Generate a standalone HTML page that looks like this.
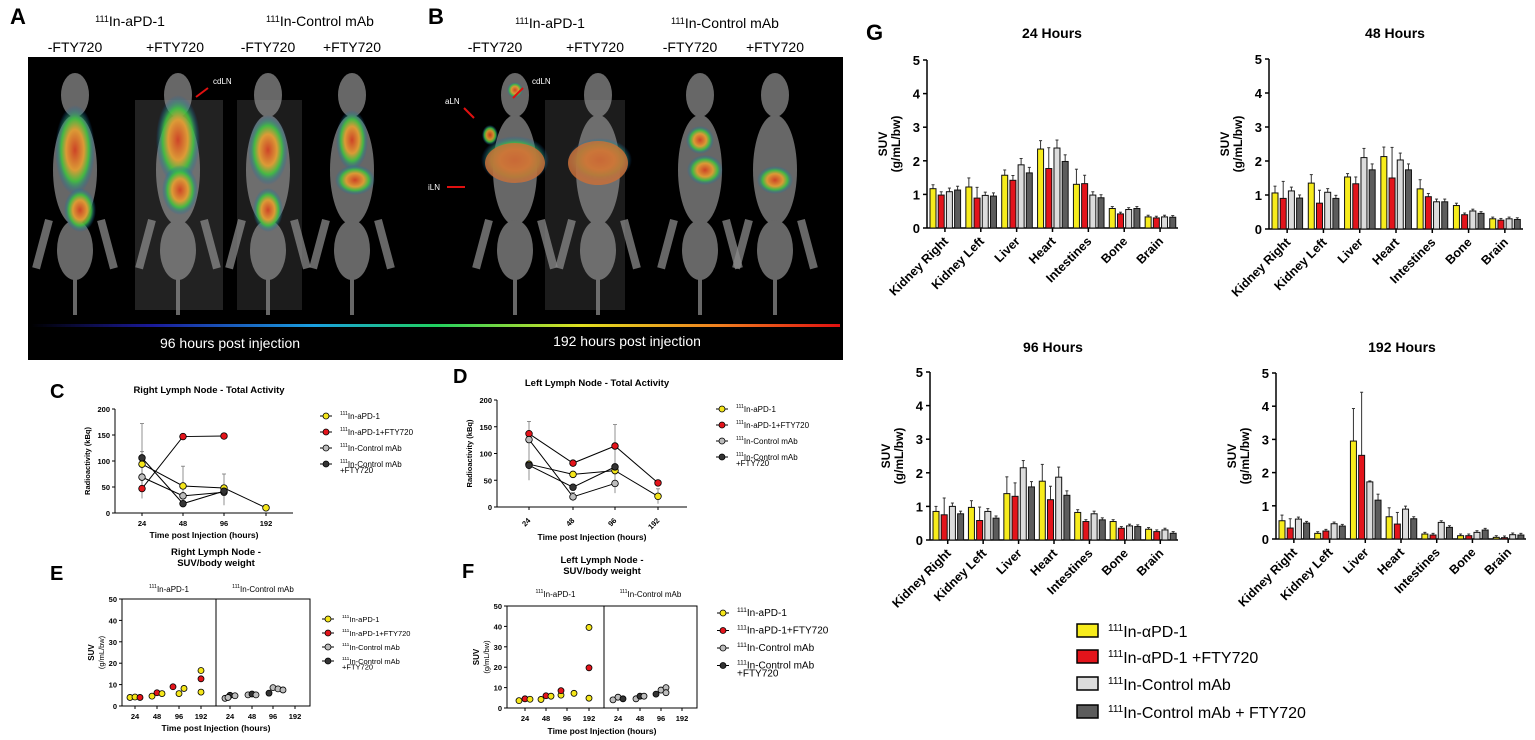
<!DOCTYPE html>
<html><head><meta charset="utf-8"><style>
body{margin:0;background:#fff;}
svg{display:block;font-family:"Liberation Sans",Arial,sans-serif;}
</style></head><body>
<svg id="s" width="1535" height="740" viewBox="0 0 1535 740" xmlns="http://www.w3.org/2000/svg">
<defs>
<linearGradient id="cb" x1="0" x2="1"><stop offset="0" stop-color="#000"/><stop offset="0.15" stop-color="#1a1a9a"/><stop offset="0.35" stop-color="#1aa0e0"/><stop offset="0.5" stop-color="#20d060"/><stop offset="0.68" stop-color="#e0e020"/><stop offset="0.85" stop-color="#f08020"/><stop offset="1" stop-color="#e01010"/></linearGradient>
<radialGradient id="hot"><stop offset="0" stop-color="#d84020"/><stop offset="0.45" stop-color="#e8a030"/><stop offset="0.7" stop-color="#40c040"/><stop offset="1" stop-color="#1060c0" stop-opacity="0"/></radialGradient>
</defs>
</svg>
<script>
const s=document.getElementById('s');let h='';
function T(x,y,t,o={}){h+=`<text x="${x}" y="${y}" font-size="${o.fs||10}" font-weight="${o.fw||'normal'}" text-anchor="${o.a||'start'}" fill="${o.c||'#000'}" ${o.tr?`transform="${o.tr}"`:''}>${t}</text>`;}
function L(x1,y1,x2,y2,c='#000',w=1){h+=`<line x1="${x1}" y1="${y1}" x2="${x2}" y2="${y2}" stroke="${c}" stroke-width="${w}"/>`;}
const sup=n=>`<tspan font-size="65%" dy="-4">${n}</tspan><tspan dy="4">`;
function lab(pre,rest){return `${sup(pre)}${rest}</tspan>`;}
// Panel A/B image
h+=`<rect x="28" y="57" width="815" height="303" fill="#000"/>`;
T(10,24,'A',{fs:22,fw:'bold'});T(428,24,'B',{fs:22,fw:'bold'});
T(130,26,lab('111','In-aPD-1'),{fs:14,a:'middle'});T(320,26,lab('111','In-Control mAb'),{fs:14,a:'middle'});
T(550,28,lab('111','In-aPD-1'),{fs:14,a:'middle'});T(725,28,lab('111','In-Control mAb'),{fs:14,a:'middle'});
[[75,'-FTY720'],[175,'+FTY720'],[268,'-FTY720'],[352,'+FTY720'],[495,'-FTY720'],[595,'+FTY720'],[690,'-FTY720'],[775,'+FTY720']].forEach(([x,t])=>T(x,52,t,{fs:14,a:'middle'}));
// mice
h+=`<rect x="135" y="100" width="88" height="210" fill="#222"/><rect x="237" y="100" width="65" height="210" fill="#1c1c1c"/><rect x="545" y="100" width="80" height="210" fill="#1c1c1c"/>`;
[75,178,268,352,515,598,700,775].forEach((x,i)=>{
 h+=`<g fill="#8a8a8a" opacity="0.75"><ellipse cx="${x}" cy="95" rx="14" ry="22"/><ellipse cx="${x}" cy="170" rx="22" ry="55"/><ellipse cx="${x}" cy="250" rx="18" ry="30"/><rect x="${x-2}" y="270" width="4" height="45"/><rect x="${x-30}" y="220" width="8" height="50" transform="rotate(15 ${x-26} 220)"/><rect x="${x+22}" y="220" width="8" height="50" transform="rotate(-15 ${x+26} 220)"/></g>`;
});
const blobs=[[75,150,20,45],[80,210,16,22],[178,140,22,45],[180,190,18,25],[268,150,20,35],[268,210,15,22],[352,140,16,30],[355,180,20,15],[515,160,34,24],[515,90,8,8],[490,135,8,10],[600,160,32,22],[700,140,14,14],[705,170,18,15],[775,180,18,14]];
blobs.forEach(([x,y,rx,ry])=>h+=`<ellipse cx="${x}" cy="${y}" rx="${rx}" ry="${ry}" fill="url(#hot)" opacity="0.9"/>`);
h+=`<ellipse cx="515" cy="163" rx="30" ry="20" fill="#c8703a" opacity="0.85"/><ellipse cx="598" cy="163" rx="30" ry="22" fill="#c8703a" opacity="0.85"/>`;
h+=`<rect x="31" y="324" width="809" height="3" fill="url(#cb)"/>`;
T(230,348,'96 hours post injection',{fs:14,c:'#fff',a:'middle'});T(627,346,'192 hours post injection',{fs:14,c:'#fff',a:'middle'});
T(213,84,'cdLN',{fs:8,c:'#fff'});T(532,84,'cdLN',{fs:8,c:'#fff'});T(445,104,'aLN',{fs:8,c:'#fff'});T(428,190,'iLN',{fs:8,c:'#fff'});
L(208,88,196,97,'#e01010',2);L(523,88,513,98,'#e01010',2);L(464,108,474,118,'#e01010',2);L(447,187,465,187,'#e01010',2);
// line charts
const cols=['#f5e61a','#e4141b','#bdbdbd','#333'];
function lineChart(o){
 const {x0,x1,y0,yT,ticks,data,ttl,lx,ly,rot,letter}=o;
 T(letter[1],letter[2],letter[0],{fs:20,fw:'bold'});
 T((x0+x1)/2+5,ttl[1],ttl[0],{fs:9.5,fw:'bold',a:'middle'});
 L(x0,yT,x0,y0);L(x0,y0,x1,y0);
 [0,50,100,150,200].forEach(v=>{const y=y0-(y0-yT)*v/200;L(x0-3,y,x0,y);T(x0-5,y+3,v,{fs:7.5,fw:'bold',a:'end'});});
 ticks.forEach((x,i)=>{L(x,y0,x,y0+3);const t=[24,48,96,192][i];if(rot)T(x+2,y0+14,t,{fs:7.5,fw:'bold',a:'end',tr:`rotate(-45 ${x+2} ${y0+14})`});else T(x,y0+13,t,{fs:7.5,fw:'bold',a:'middle'});});
 T((x0+x1)/2,o.xl,'Time post Injection (hours)',{fs:8.5,fw:'bold',a:'middle'});
 T(x0-25,(y0+yT)/2,'Radioactivity (kBq)',{fs:7.5,fw:'bold',a:'middle',tr:`rotate(-90 ${x0-25} ${(y0+yT)/2})`});
 const Y=v=>y0-(y0-yT)*v/200;
 o.err.forEach(([i,v,e])=>{L(ticks[i],Y(v-e),ticks[i],Y(v+e),'#777',0.8);L(ticks[i]-2,Y(v+e),ticks[i]+2,Y(v+e),'#777',0.8);});
 data.forEach((d,k)=>{let p=d.map((v,i)=>v==null?null:[ticks[i],Y(v)]).filter(a=>a);h+=`<polyline points="${p.map(a=>a.join(',')).join(' ')}" fill="none" stroke="#000" stroke-width="1"/>`;});
 data.forEach((d,k)=>d.forEach((v,i)=>{if(v!=null)h+=`<circle cx="${ticks[i]}" cy="${Y(v)}" r="3.3" fill="${cols[k]}" stroke="#000" stroke-width="0.8"/>`;}));
 legend(lx,ly,o.lfs||8,o.lsp||16);
}
function legend(x,y,fs,sp){
 const t=[['111','In-aPD-1'],['111','In-aPD-1+FTY720'],['111','In-Control mAb'],['111','In-Control mAb']];
 t.forEach((a,k)=>{const yy=y+k*sp;L(x,yy,x+12,yy);h+=`<circle cx="${x+6}" cy="${yy}" r="3" fill="${cols[k]}" stroke="#000" stroke-width="0.8"/>`;T(x+20,yy+3,lab(a[0],a[1]),{fs});});
 T(x+20,y+3*sp+fs+1,'+FTY720',{fs});
}
lineChart({x0:115,x1:293,y0:513,yT:409,ticks:[142,183,224,266],letter:['C',50,398],ttl:['Right Lymph Node - Total Activity',393],xl:538,lx:320,ly:416,
 data:[[94,52,48,10],[47,147,148,null],[69,33,40,null],[106,18,42,null]],err:[[0,100,72],[1,52,38],[2,45,30],[0,80,38]]});
lineChart({x0:497,x1:687,y0:507,yT:400,ticks:[529,573,615,658],letter:['D',453,383],ttl:['Left Lymph Node - Total Activity',386],xl:540,lx:716,ly:409,rot:1,
 data:[[80,61,68,20],[137,82,114,45],[126,19,44,null],[78,37,75,null]],err:[[0,105,55],[2,90,64],[3,20,14],[1,19,8]]});
// scatter charts
function scat(o){
 const {x0,x1,xd,y0,yT,ticks,pts,letter,t1,t2,lx,ly}=o;
 T(letter[1],letter[2],letter[0],{fs:20,fw:'bold'});
 T((x0+x1)/2,t1,o.ttl,{fs:9.5,fw:'bold',a:'middle'});T((x0+x1)/2,t1+11,'SUV/body weight',{fs:9.5,fw:'bold',a:'middle'});
 T((x0+xd)/2,t2,lab('111','In-aPD-1'),{fs:8,a:'middle'});T((xd+x1)/2,t2,lab('111','In-Control mAb'),{fs:8,a:'middle'});
 h+=`<rect x="${x0}" y="${yT}" width="${x1-x0}" height="${y0-yT}" fill="none" stroke="#000" stroke-width="1"/>`;L(xd,yT,xd,y0);
 [0,10,20,30,40,50].forEach(v=>{const y=y0-(y0-yT)*v/50;L(x0-3,y,x0,y);T(x0-5,y+3,v,{fs:7.5,fw:'bold',a:'end'});});
 ticks.forEach((x,i)=>{L(x,y0,x,y0+3);T(x,y0+13,[24,48,96,192][i%4],{fs:7.5,fw:'bold',a:'middle'});});
 T((x0+x1)/2,o.xl,'Time post Injection (hours)',{fs:8.5,fw:'bold',a:'middle'});
 const cx=x0-28,cy=(y0+yT)/2;
 T(cx,cy,'SUV',{fs:8,fw:'bold',a:'middle',tr:`rotate(-90 ${cx} ${cy})`});T(cx+10,cy,'(g/mL/bw)',{fs:7.5,a:'middle',tr:`rotate(-90 ${cx+10} ${cy})`});
 pts.forEach(([ti,dx,v,k])=>h+=`<circle cx="${ticks[ti]+dx}" cy="${y0-(y0-yT)*v/50}" r="3" fill="${cols[k]}" stroke="#000" stroke-width="0.8"/>`);
 legend(lx,ly,o.lfs,o.lsp);
}
scat({x0:122,x1:310,xd:216,y0:706,yT:599,ticks:[135,157,179,201,230,252,273,295],letter:['E',50,580],ttl:'Right Lymph Node -',t1:555,t2:592,xl:731,lx:322,ly:619,lfs:7.5,lsp:14,
 pts:[[0,-5,4,0],[0,0,4.2,0],[0,5,4,1],[1,-5,4.6,0],[1,0,6.2,1],[1,5,5.8,0],[2,-6,9,1],[2,0,5.8,0],[2,5,8.2,0],[3,0,16.6,0],[3,0,12.7,1],[3,0,6.5,0],[4,-5,3.6,2],[4,0,5,3],[4,5,4.8,2],[4,-2,4,2],[5,-4,5.2,2],[5,0,5.6,3],[5,4,5.2,2],[6,-4,6,3],[6,0,8.6,2],[6,5,8,2],[6,10,7.5,2]]});
scat({x0:507,x1:697,xd:604,y0:708,yT:606,ticks:[525,546,567,589,618,640,661,682],letter:['F',462,578],ttl:'Left Lymph Node -',t1:563,t2:597,xl:734,lx:717,ly:613,lfs:10,lsp:17.5,
 pts:[[0,-6,3.6,0],[0,0,4.5,1],[0,5,4.3,0],[1,-5,4.2,0],[1,0,6,1],[1,5,5.8,0],[2,-6,6.3,0],[2,-6,8.5,1],[2,7,7.2,0],[3,0,39.5,0],[3,0,19.7,1],[3,0,4.8,0],[4,-5,4,2],[4,0,5.3,2],[4,5,4.5,3],[5,-4,4.5,2],[5,0,5.8,3],[5,4,5.8,2],[6,-5,6.8,3],[6,0,8.8,2],[6,5,10,2],[6,5,7.5,2]]});
// bar charts
T(866,40,'G',{fs:22,fw:'bold'});
const bc=['#f7ec1c','#e3141b','#dcdcdc','#5c5c5c'];
const orgs=['Kidney Right','Kidney Left','Liver','Heart','Intestines','Bone','Brain'];
function bars(o){
 const {x0,x1,y0,yT,ttl,tx,ty,data}=o;
 T(tx,ty,ttl,{fs:14,fw:'bold',a:'middle'});
 L(x0,yT,x0,y0,'#000',1.5);L(x0,y0,x1,y0,'#000',1.5);
 for(let v=0;v<=5;v++){const y=y0-(y0-yT)*v/5;L(x0-4,y,x0,y,'#000',1.5);T(x0-7,y+5,v,{fs:13,fw:'bold',a:'end'});}
 const cx=x0-40,cy=(y0+yT)/2;
 T(cx,cy,'SUV',{fs:12,fw:'bold',a:'middle',tr:`rotate(-90 ${cx} ${cy})`});T(cx+13,cy,'(g/mL/bw)',{fs:12,fw:'bold',a:'middle',tr:`rotate(-90 ${cx+13} ${cy})`});
 const gw=(x1-x0)/7;
 data.forEach((g,i)=>{const gc=x0+gw*i+gw/2;L(gc,y0,gc,y0+4,'#000',1.5);
  T(gc+4,y0+14,orgs[i],{fs:12.5,fw:'bold',a:'end',tr:`rotate(-45 ${gc+4} ${y0+14})`});
  g.forEach((v,k)=>{const bx=x0+gw*i+3+k*8.2,bh=(y0-yT)*v/5,e=(o.err&&o.err[i]&&o.err[i][k])||Math.max(0.05,v*0.1);
   const ey=y0-(y0-yT)*(v+e)/5;L(bx+3,y0-bh,bx+3,ey,'#333',1);L(bx+1.5,ey,bx+4.5,ey,'#333',1);
   h+=`<rect x="${bx}" y="${y0-bh}" width="6" height="${bh}" fill="${bc[k]}" stroke="#111" stroke-width="1"/>`;});
 });
}
bars({x0:927,x1:1178,y0:228,yT:60,ttl:'24 Hours',tx:1052,ty:38,data:[[1.17,0.98,1.08,1.13],[1.22,0.89,0.97,0.95],[1.57,1.42,1.88,1.64],[2.35,1.77,2.38,1.98],[1.3,1.32,0.98,0.9],[0.58,0.42,0.55,0.58],[0.33,0.3,0.33,0.32]],err:[null,[0.27,0.32],null,[0.25,0.62],[0.45,0.25]]});
bars({x0:1269,x1:1523,y0:229,yT:59,ttl:'48 Hours',tx:1395,ty:38,data:[[1.06,0.9,1.12,0.91],[1.35,0.76,1.08,0.9],[1.53,1.33,2.1,1.74],[2.13,1.5,2.03,1.74],[1.18,0.95,0.8,0.8],[0.69,0.42,0.53,0.46],[0.3,0.26,0.3,0.28]],err:[[0.2,0.5],[0.25,0.38],[0.1,0.2,0.27],[0.28,0.9],[0.27]]});
bars({x0:930,x1:1178,y0:540,yT:372,ttl:'96 Hours',tx:1053,ty:352,data:[[0.85,0.75,1.0,0.78],[0.97,0.58,0.85,0.65],[1.38,1.3,2.15,1.58],[1.75,1.2,1.87,1.33],[0.82,0.55,0.78,0.6],[0.55,0.35,0.42,0.4],[0.32,0.25,0.3,0.2]],err:[[0.15,0.5],[0.2,0.4],[0.5,0.4],[0.5,0.4,0.3]]});
bars({x0:1276,x1:1526,y0:539,yT:373,ttl:'192 Hours',tx:1402,ty:352,data:[[0.55,0.33,0.6,0.48],[0.17,0.24,0.46,0.39],[2.95,2.52,1.72,1.17],[0.67,0.45,0.9,0.61],[0.15,0.12,0.5,0.35],[0.1,0.1,0.2,0.27],[0.05,0.04,0.13,0.12]],err:[[0.17,0.28],null,[0.98,1.9,0.03,0.18],[0.27,0.35]]});
// G legend
[['In-αPD-1',637],['In-αPD-1 +FTY720',663],['In-Control mAb',690],['In-Control mAb + FTY720',718]].forEach(([t,y],k)=>{
 h+=`<rect x="1077" y="${y-13}" width="21" height="13" fill="${bc[k]}" stroke="#000" stroke-width="1.5"/>`;
 T(1108,y,`<tspan font-size="10" dy="-6">111</tspan><tspan dy="6">${t}</tspan>`,{fs:16});
});
s.innerHTML+=h;
</script>
</body></html>
